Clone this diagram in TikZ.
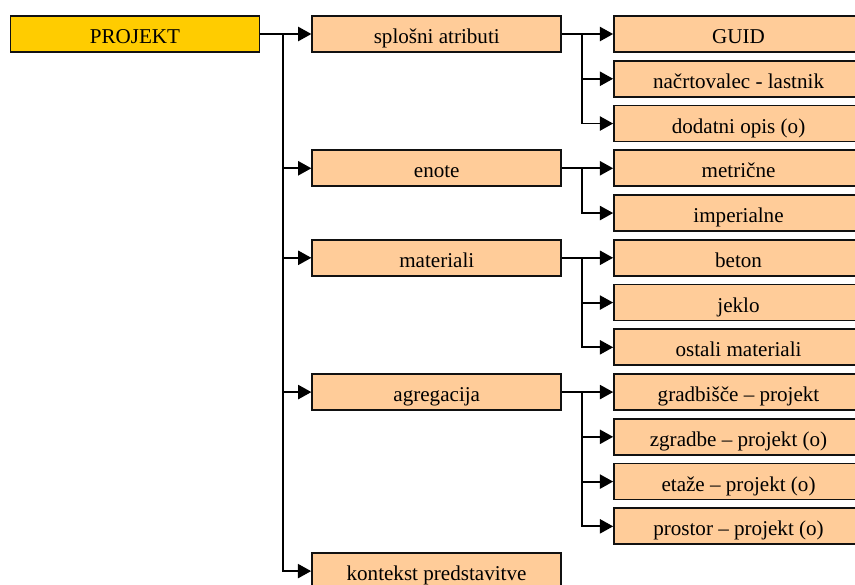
\documentclass[tikz,border=0pt]{standalone}
\usepackage{fontspec}
\setmainfont{Liberation Serif}
\usepackage{tikz}
\usetikzlibrary{positioning,arrows.meta,calc}
\definecolor{projYellow}{HTML}{FFCC00}
\definecolor{itemPeach}{HTML}{FFCC99}
\definecolor{lineDark}{HTML}{111111}
\tikzset{
  block/.style={rectangle,draw=lineDark,line width=1pt,fill=itemPeach,
    minimum width=4.98cm,minimum height=0.72cm,inner sep=0pt,align=center,
    text height=0.48cm,text depth=0.1cm,
    font=\rmfamily\fontsize{12}{14}\selectfont},
  root/.style={block,fill=projYellow},
  arrow/.style={-{Triangle[length=7.5pt,width=8pt]},line width=1.1pt,draw=black}
}
\begin{document}
\begin{tikzpicture}[node distance=0.14cm and 1.02cm]
\useasboundingbox (0,0) rectangle (17.1,-11.68);
\clip (0,0) rectangle (17.1,-11.68);

% root and first column
\node[root] (proj) at (2.70,-0.68) {PROJEKT};
\node[block, right=of proj] (spl) {splošni atributi};

% second column, one row after another
\node[block, right=of spl] (guid) {GUID};
\node[block, below=of guid] (nacrt) {načrtovalec - lastnik};
\node[block, below=of nacrt] (dod) {dodatni opis (o)};
\node[block, below=of dod] (met) {metrične};
\node[block, below=of met] (imp) {imperialne};
\node[block, below=of imp] (beton) {beton};
\node[block, below=of beton] (jeklo) {jeklo};
\node[block, below=of jeklo] (ostali) {ostali materiali};
\node[block, below=of ostali] (grad) {gradbišče -- projekt};
\node[block, below=of grad] (zgr) {zgradbe -- projekt (o)};
\node[block, below=of zgr] (eta) {etaže -- projekt (o)};
\node[block, below=of eta] (pros) {prostor -- projekt (o)};

% rest of the first column
\node[block, left=of met] (enote) {enote};
\node[block, left=of beton] (mat) {materiali};
\node[block, left=of grad] (agr) {agregacija};
\node[block, below=of pros, xshift=-6.04cm] (kont) {kontekst predstavitve};

% trunk from the root
\coordinate (t0) at ($(proj.east)+(0.46,0)$);
\draw[arrow] (proj) -- (spl);
\foreach \n in {enote,mat,agr,kont}
  \draw[arrow] (t0) |- (\n.west);

% branches of the first column
\coordinate (t1) at ($(spl.east)+(0.4,0)$);
\draw[arrow] (spl) -- (guid);
\foreach \n in {nacrt,dod}
  \draw[arrow] (t1) |- (\n.west);

\coordinate (t2) at ($(enote.east)+(0.4,0)$);
\draw[arrow] (enote) -- (met);
\draw[arrow] (t2) |- (imp.west);

\coordinate (t3) at ($(mat.east)+(0.4,0)$);
\draw[arrow] (mat) -- (beton);
\foreach \n in {jeklo,ostali}
  \draw[arrow] (t3) |- (\n.west);

\coordinate (t4) at ($(agr.east)+(0.4,0)$);
\draw[arrow] (agr) -- (grad);
\foreach \n in {zgr,eta,pros}
  \draw[arrow] (t4) |- (\n.west);
\end{tikzpicture}
\end{document}
